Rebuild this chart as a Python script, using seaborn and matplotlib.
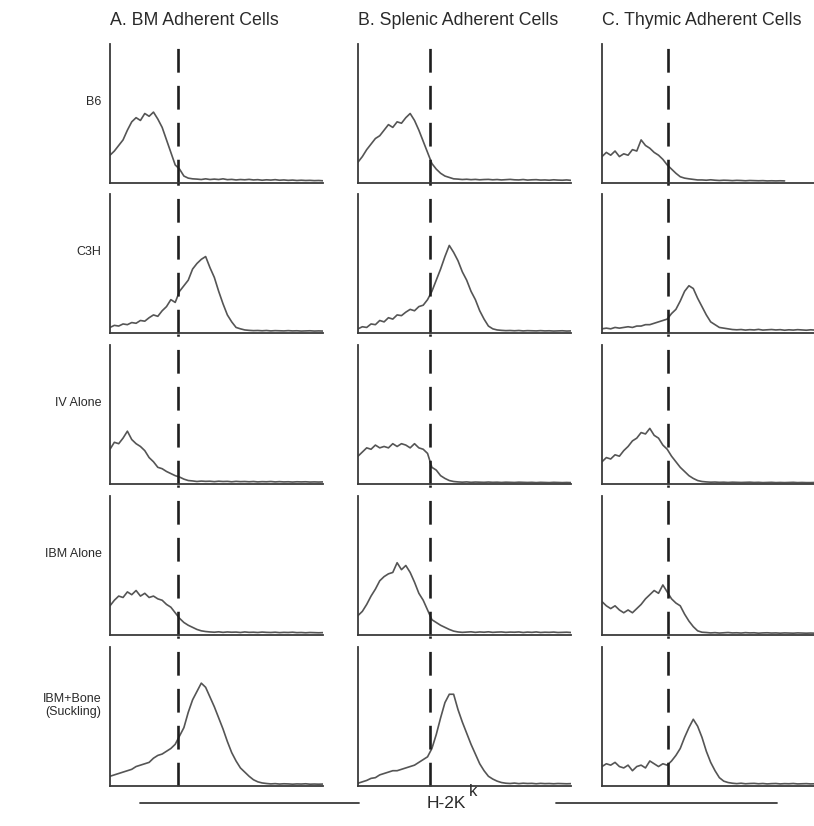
import pandas as pd
import seaborn as sns
import matplotlib.pyplot as plt
from matplotlib.lines import Line2D

sns.set_style("white")
plt.rcParams["font.family"] = ["Liberation Sans", "DejaVu Sans"]

#=================
#Data
#=================
columns = ["A. BM Adherent Cells", "B. Splenic Adherent Cells", "C. Thymic Adherent Cells"]
groups = ["B6", "C3H", "IV Alone", "IBM Alone", "IBM+Bone\n(Suckling)"]
cutoff = [312, 331, 304]                 # H-2Kk gate, channel units
channel = list(range(0, 1000, 20))       # histogram bins

# % of max events per bin
bm_b6 = [20, 23, 27, 31, 38, 44, 47, 45, 50, 48, 51, 46, 40, 31, 22, 13, 10, 5, 3.5, 3,
         2.8, 2.5, 3, 2.5, 2.8, 2.5, 3, 2.4, 2.6, 2.2, 2.5, 2.3, 2.6, 2.2, 2.4, 2, 2.3, 2.1, 2.4, 2,
         2.2, 1.9, 2.1, 1.8, 2, 1.8, 1.9, 1.7, 1.8, 1.6]
spl_b6 = [15, 19, 24, 28, 32, 34, 38, 42, 40, 44, 43, 47, 50, 45, 38, 30, 22, 14, 10, 7,
          5, 4, 3, 2.8, 2.5, 2.7, 2.4, 2.6, 2.3, 2.5, 2.6, 2.3, 2.5, 2.2, 2.4, 2.6, 2.3, 2.2, 2.5, 2.1,
          2.3, 2.4, 2.1, 2.2, 2, 2.3, 2.1, 2, 2.2, 1.9]
thy_b6 = [19, 22, 20, 23, 19, 21, 20, 24, 23, 31, 27, 25, 22, 20, 17, 13, 10, 7, 4.5, 3.5,
          3, 2.6, 2.2, 2.2, 2, 2.3, 2, 1.8, 2, 1.9, 1.7, 1.9, 1.8, 1.6, 1.8, 1.7, 1.6, 1.7, 1.5, 1.6,
          1.5, 1.6, 1.5]

bm_c3h = [4, 5.5, 5, 6.5, 6, 7.5, 7, 9, 8.5, 11, 13, 12, 16, 19, 24, 22, 30, 34, 38, 46,
          50, 53, 55, 47, 40, 30, 21, 13, 8, 4, 3, 2.2, 1.9, 1.7, 1.8, 1.6, 1.8, 1.5, 1.7, 1.6,
          1.5, 1.7, 1.5, 1.6, 1.4, 1.5, 1.6, 1.4, 1.5, 1.4]
spl_c3h = [3, 4.5, 4, 6.5, 6, 9, 8, 11, 10, 13, 12.5, 15, 17, 16, 19, 20, 24, 30, 38, 46,
           55, 63, 58, 52, 44, 38, 30, 24, 16, 10, 5, 3, 2.2, 1.9, 1.7, 1.8, 1.6, 1.8, 1.5, 1.7,
           1.6, 1.5, 1.7, 1.5, 1.6, 1.4, 1.5, 1.6, 1.4, 1.5]
thy_c3h = [3, 3.5, 3, 4, 3.5, 4, 4.5, 4, 5, 5, 6, 6, 7, 8, 9, 10, 14, 17, 23, 30,
           34, 32, 25, 19, 13, 8, 6, 4, 3.5, 3, 2.5, 2.3, 2.5, 2.1, 2.4, 2.2, 2.6, 2.1, 2.3, 2.5,
           2.2, 2.4, 2, 2.3, 2.1, 2.4, 2.2, 2, 2.3, 2.1]

bm_iv = [25, 30, 29, 33, 38, 32, 29, 27, 24, 19, 16, 12, 11, 9, 7.5, 6, 5, 3.5, 2.5, 2.2,
         1.8, 2.1, 1.9, 2, 1.7, 2, 1.8, 1.9, 1.6, 1.9, 1.7, 1.8, 1.6, 1.8, 1.5, 1.7, 1.6, 1.8, 1.5, 1.7,
         1.5, 1.6, 1.4, 1.6, 1.5, 1.6, 1.4, 1.5, 1.4, 1.5]
spl_iv = [20, 23, 26, 25, 28, 26, 27, 26, 29, 27, 29, 28, 26, 29, 26, 25, 22, 12, 10, 6,
          4, 2.5, 1.8, 1.5, 1.3, 1.5, 1.2, 1.4, 1.3, 1.2, 1.4, 1.2, 1.3, 1.1, 1.3, 1.2, 1.1, 1.3, 1.2, 1.1,
          1.2, 1, 1.2, 1.1, 1, 1.2, 1.1, 1, 1.1, 1]
thy_iv = [16, 19, 18, 21, 20, 24, 27, 31, 33, 37, 36, 40, 35, 33, 28, 25, 20, 16, 12, 9,
          6, 4, 2.5, 1.8, 1.5, 1.3, 1.4, 1.2, 1.3, 1.1, 1.3, 1.2, 1.1, 1.2, 1.3, 1.1, 1.2, 1, 1.1, 1.2,
          1, 1.1, 1, 1.1, 1.2, 1, 1.1, 1, 1, 1.1]

bm_ibm = [21, 25, 28, 27, 31, 29, 32, 28, 30, 27, 28, 26, 25, 22, 20, 16, 12, 9, 7, 5.5,
          4, 3, 2.5, 2.2, 2, 2.3, 1.9, 2.2, 2, 2.1, 1.8, 2.2, 1.9, 2, 1.8, 2.1, 1.9, 1.8, 2, 1.7,
          1.9, 1.8, 2, 1.7, 1.8, 1.6, 1.8, 1.7, 1.6, 1.7]
spl_ibm = [14, 17, 22, 28, 33, 39, 42, 44, 45, 52, 47, 50, 45, 38, 30, 25, 18, 11, 9, 7,
           5.5, 4, 2.8, 2.2, 1.9, 2.1, 2.3, 1.9, 2.2, 2, 2.3, 1.9, 2.1, 2.2, 1.9, 2.1, 2, 2.2, 1.8, 2.1,
           1.9, 2.2, 1.8, 2, 1.9, 2.1, 1.8, 1.9, 2, 1.8]
thy_ibm = [24, 21, 19, 21, 18, 16, 18, 16, 19, 22, 26, 29, 32, 30, 36, 31, 26, 23, 21, 15,
           10, 6, 3, 2, 1.8, 1.5, 1.7, 1.4, 1.6, 1.8, 1.5, 1.6, 1.4, 1.7, 1.5, 1.6, 1.3, 1.5, 1.6, 1.4,
           1.5, 1.3, 1.5, 1.4, 1.3, 1.5, 1.4, 1.3, 1.4, 1.3]

bm_bone = [7, 8, 9, 10, 11, 12, 14, 15, 16, 17, 20, 22, 23, 25, 27, 30, 36, 42, 53, 62,
           68, 74, 71, 64, 57, 49, 41, 32, 24, 18, 13, 10, 7, 4.5, 3, 2.2, 1.8, 1.5, 1.7, 1.4,
           1.6, 1.5, 1.3, 1.5, 1.4, 1.6, 1.3, 1.4, 1.3, 1.4]
spl_bone = [2, 3, 4, 5.5, 6, 8, 9, 10, 11, 11, 12, 13, 14, 15, 17, 19, 21, 27, 37, 49,
            60, 66, 66, 55, 46, 38, 30, 23, 16, 11, 7, 5, 3.5, 2.5, 2, 1.8, 2.1, 1.7, 2, 1.8,
            1.9, 1.6, 1.9, 1.7, 1.8, 1.6, 1.8, 1.7, 1.6, 1.7]
thy_bone = [14, 16, 15, 17, 14, 13, 15, 11, 14, 15, 13, 18, 16, 14, 16, 15, 18, 22, 27, 35,
            42, 48, 43, 35, 25, 17, 11, 6, 3.5, 2.5, 2, 1.7, 2, 1.6, 1.8, 1.9, 1.6, 1.8, 1.5, 1.7,
            1.8, 1.5, 1.7, 1.6, 1.8, 1.5, 1.6, 1.7, 1.5, 1.6]

panels = [[bm_b6, spl_b6, thy_b6],
          [bm_c3h, spl_c3h, thy_c3h],
          [bm_iv, spl_iv, thy_iv],
          [bm_ibm, spl_ibm, thy_ibm],
          [bm_bone, spl_bone, thy_bone]]

#=================
#Layout
#=================
W, H = 814, 826
fig = plt.figure(figsize=(W / 100, H / 100), dpi=100)
col_left = [110, 358, 602]
row_bottom = [183, 333, 484, 635, 786]
ax_w, ax_h = 213, 139
curve_col = "#555555"
axis_col = "#3a3a3a"
text_col = "#2a2a2a"

for r, row in enumerate(panels):
    for c, vals in enumerate(row):
        ax = fig.add_axes([col_left[c] / W, 1 - row_bottom[r] / H, ax_w / W, ax_h / H])
        df = pd.DataFrame({"channel": channel[:len(vals)], "count": vals})
        sns.lineplot(data=df, x="channel", y="count", ax=ax, color=curve_col, lw=1.2)
        ax.set(xlim=(0, 980), ylim=(0, 100), xticks=[], yticks=[], xlabel="", ylabel="")
        sns.despine(ax=ax)
        for s in ["left", "bottom"]:
            ax.spines[s].set_color(axis_col)
            ax.spines[s].set_linewidth(1.3)
        top = 1.0 if r == 0 else 1.08
        ax.axvline(cutoff[c], ymin=0, ymax=top, color="#1e1e1e", lw=1.9,
                   dashes=(9, 5), clip_on=False)
        if r == 0:
            ax.text(0, 1.17, columns[c], transform=ax.transAxes, ha="left", va="center",
                    fontsize=12.8, color=text_col)
        if c == 0:
            ax.text(-0.04, 0.58, groups[r], transform=ax.transAxes, ha="right", va="center",
                    fontsize=9, color=text_col, linespacing=1.1)

#=================
#X axis label
#=================
y_lab = 1 - 803 / H
fig.add_artist(Line2D([140 / W, 359 / W], [y_lab, y_lab], color=axis_col, lw=1.3))
fig.add_artist(Line2D([556 / W, 777 / W], [y_lab, y_lab], color=axis_col, lw=1.3))
fig.text(427 / W, y_lab, "H-2K", ha="left", va="center", fontsize=12.5, color=text_col)
fig.text(469 / W, y_lab + 11 / H, "k", ha="left", va="center", fontsize=12, color=text_col)

plt.savefig("out.png", dpi=100)
